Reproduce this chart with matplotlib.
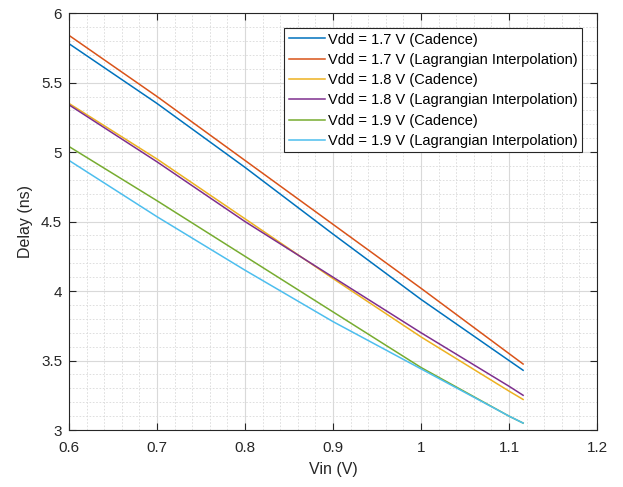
import numpy as np
import matplotlib.pyplot as plt
from matplotlib.ticker import MultipleLocator

# values
vin = [0.6, 0.7, 0.8, 0.9, 1.0, 1.1, 1.116]
vdd17_cadence = [5.78, 5.35, 4.89, 4.41, 3.94, 3.50, 3.43]
vdd17_lagrange = [5.84, 5.40, 4.94, 4.48, 4.02, 3.55, 3.475]
vdd18_cadence = [5.35, 4.95, 4.52, 4.09, 3.67, 3.28, 3.22]
vdd18_lagrange = [5.34, 4.93, 4.50, 4.10, 3.70, 3.315, 3.25]
vdd19_cadence = [5.04, 4.65, 4.25, 3.85, 3.45, 3.10, 3.05]
vdd19_lagrange = [4.94, 4.535, 4.15, 3.78, 3.44, 3.10, 3.05]

labels = ["Vdd = 1.7 V (Cadence)", "Vdd = 1.7 V (Lagrangian Interpolation)",
          "Vdd = 1.8 V (Cadence)", "Vdd = 1.8 V (Lagrangian Interpolation)",
          "Vdd = 1.9 V (Cadence)", "Vdd = 1.9 V (Lagrangian Interpolation)"]
series = [vdd17_cadence, vdd17_lagrange, vdd18_cadence,
          vdd18_lagrange, vdd19_cadence, vdd19_lagrange]
colors = [(0, 0.447, 0.741), (0.85, 0.325, 0.098), (0.929, 0.694, 0.125),
          (0.494, 0.184, 0.556), (0.466, 0.674, 0.188), (0.301, 0.745, 0.933)]

plt.rcParams['font.family'] = ['Liberation Sans', 'DejaVu Sans']
dark = (0.15, 0.15, 0.15)

fig = plt.figure(figsize=(6.23, 4.87), dpi=100)
ax = fig.add_axes([0.1108, 0.117, 0.8475, 0.856])

for y, lab, c in zip(series, labels, colors):
    ax.plot(vin, y, color=c, lw=1.1, label=lab)

ax.set_xlim(0.6, 1.2)
ax.set_ylim(3, 6)
ax.xaxis.set_major_locator(MultipleLocator(0.1))
ax.xaxis.set_minor_locator(MultipleLocator(0.02))
ax.yaxis.set_major_locator(MultipleLocator(0.5))
ax.yaxis.set_minor_locator(MultipleLocator(0.1))
ax.set_xticklabels([f"{v:g}" for v in ax.get_xticks()])
ax.set_yticklabels([f"{v:g}" for v in ax.get_yticks()])

ax.grid(which='major', color=(0.85, 0.85, 0.85), lw=0.8)
ax.grid(which='minor', color=(0.85, 0.85, 0.85), lw=0.6, ls=(0, (2, 2)))
ax.set_axisbelow(True)

ax.tick_params(which='both', direction='in', top=True, right=True,
               colors=dark, labelsize=11)
ax.tick_params(which='major', length=5)
ax.tick_params(which='minor', length=0)
ax.tick_params(axis='x', pad=8)
ax.tick_params(axis='y', pad=5)
for s in ax.spines.values():
    s.set_color(dark)
    s.set_linewidth(0.8)

ax.set_xlabel("Vin (V)", fontsize=11.5, color=dark, labelpad=5)
ax.set_ylabel("Delay (ns)", fontsize=11.5, color=dark, labelpad=6)

leg = ax.legend(loc='upper right', bbox_to_anchor=(0.9716, 0.964),
                fontsize=10.5, fancybox=False, framealpha=1, edgecolor=dark,
                handlelength=2.5, handletextpad=0.2, labelspacing=0.43,
                borderpad=0.3, borderaxespad=0)
leg.get_frame().set_linewidth(0.8)

fig.savefig("out.png", dpi=100)
